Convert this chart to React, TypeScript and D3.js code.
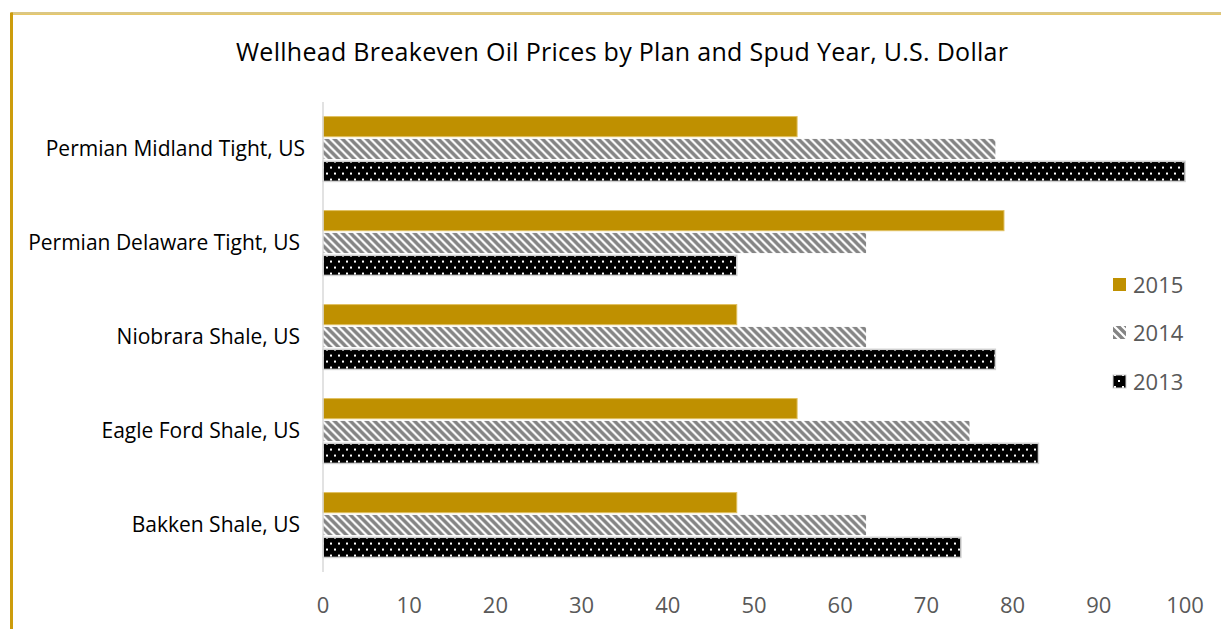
import React from "react";
import * as d3 from "d3";

const categories = [
  "Permian Midland Tight, US",
  "Permian Delaware Tight, US",
  "Niobrara Shale, US",
  "Eagle Ford Shale, US",
  "Bakken Shale, US",
];
const years = ["2015", "2014", "2013"];
const values2015 = [55, 79, 48, 55, 48];
const values2014 = [78, 63, 63, 75, 63];
const values2013 = [100, 48, 78, 83, 74];
const xTicks = [0, 10, 20, 30, 40, 50, 60, 70, 80, 90, 100];

const W = 1221;
const H = 629;
const FONT = "'Open Sans', Lato, sans-serif";

export default function App() {
  const x = d3.scaleLinear().domain([0, 100]).range([323, 1185]);
  const y0 = d3
    .scaleBand<string>()
    .domain(categories)
    .range([102, 572])
    .paddingInner(0.31)
    .paddingOuter(0.155);
  const y1 = d3
    .scaleBand<string>()
    .domain(years)
    .range([0, y0.bandwidth()])
    .paddingInner(0.1);

  const seriesValues: Record<string, number[]> = {
    "2015": values2015,
    "2014": values2014,
    "2013": values2013,
  };
  const fills: Record<string, string> = {
    "2015": "#bf9000",
    "2014": "url(#stripes)",
    "2013": "url(#dots)",
  };
  const strokes: Record<string, string> = {
    "2015": "#e0c060",
    "2014": "none",
    "2013": "#d0d0d0",
  };
  const legendY: Record<string, number> = { "2015": 285, "2014": 333, "2013": 382 };

  return (
    <svg
      width={W}
      height={H}
      style={{ position: "absolute", left: 0, top: 0, background: "#fff" }}
    >
      <defs>
        <pattern id="stripes" width="8" height="8" patternUnits="userSpaceOnUse">
          <rect width="8" height="8" fill="#fff" />
          <path d="M-1,-1 L9,9 M-5,3 L1,9 M3,-5 L9,1" stroke="#848484" strokeWidth="3.4" />
        </pattern>
        <pattern id="dots" width="8" height="12" patternUnits="userSpaceOnUse">
          <rect width="8" height="12" fill="#000" />
          <rect x="2" y="2" width="2" height="2" fill="#fff" />
          <rect x="6" y="8" width="2" height="2" fill="#fff" />
        </pattern>
      </defs>

      {/* frame */}
      <line x1={11} y1={13} x2={W} y2={13} stroke="#b8900a" strokeWidth={1.2} />
      <line x1={11} y1={14.5} x2={W} y2={14.5} stroke="#e8c868" strokeWidth={1.2} />
      <line x1={11.5} y1={12.5} x2={11.5} y2={H} stroke="#cc9c0c" strokeWidth={3} />

      <text
        x={622}
        y={61}
        textAnchor="middle"
        fontFamily={FONT}
        fontSize={25}
        textLength={772}
        lengthAdjust="spacing"
        fill="#000"
      >
        Wellhead Breakeven Oil Prices by Plan and Spud Year, U.S. Dollar
      </text>

      {/* bars */}
      {categories.map((c, i) => (
        <g key={c} transform={`translate(0,${y0(c)})`}>
          {years.map((yr) => (
            <rect
              key={yr}
              x={x(0)}
              y={y1(yr)}
              width={x(seriesValues[yr][i]) - x(0)}
              height={y1.bandwidth()}
              fill={fills[yr]}
              stroke={strokes[yr]}
              strokeWidth={yr === "2013" ? 1.5 : 1}
            />
          ))}
        </g>
      ))}

      {/* axis line */}
      <line x1={x(0)} y1={102} x2={x(0)} y2={572} stroke="#d9d9d9" strokeWidth={1.5} />

      {/* category labels */}
      {categories.map((c) => (
        <text
          key={c}
          x={c === categories[0] ? 305 : 300}
          y={(y0(c) as number) + y0.bandwidth() / 2 + 7}
          textAnchor="end"
          fontFamily={FONT}
          fontSize={21}
          fill="#000"
        >
          {c}
        </text>
      ))}

      {/* x tick labels */}
      {xTicks.map((t) => (
        <text
          key={t}
          x={x(t)}
          y={613}
          textAnchor="middle"
          fontFamily={FONT}
          fontSize={22}
          fill="#595959"
        >
          {t}
        </text>
      ))}

      {/* legend */}
      {years.map((yr) => (
        <g key={yr}>
          <rect
            x={1113}
            y={legendY[yr] - 7}
            width={13}
            height={13}
            fill={fills[yr]}
            stroke={yr === "2013" ? "#d0d0d0" : "none"}
          />
          <text
            x={1133}
            y={legendY[yr] + 8}
            fontFamily={FONT}
            fontSize={22}
            fill="#595959"
          >
            {yr}
          </text>
        </g>
      ))}
    </svg>
  );
}
